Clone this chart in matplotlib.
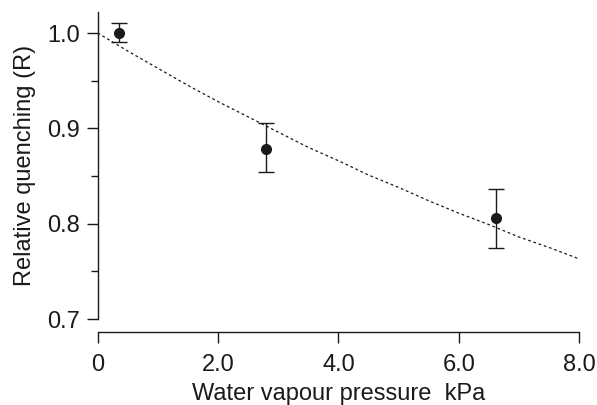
import matplotlib.pyplot as plt
import numpy as np

plt.rcParams['font.family'] = ['Liberation Sans Narrow', 'Liberation Sans', 'DejaVu Sans']

# measured points
pressure = [0.36, 2.80, 6.61]
quench = [1.000, 0.8785, 0.806]
err_lo = [0.009, 0.0245, 0.031]
err_hi = [0.011, 0.0275, 0.030]

# fitted curve
fit_x = [0, 0.5, 1, 1.5, 2, 2.5, 3, 3.5, 4, 4.5, 5, 5.5, 6, 6.5, 7, 7.5, 8]
fit_y = [1.000, 0.981, 0.963, 0.945, 0.928, 0.912, 0.896, 0.880, 0.866,
         0.851, 0.838, 0.824, 0.811, 0.799, 0.786, 0.775, 0.763]

xticks = [0, 2, 4, 6, 8]
xticklabels = ['0', '2.0', '4.0', '6.0', '8.0']
yticks = [0.7, 0.8, 0.9, 1.0]
yticklabels = ['0.7', '0.8', '0.9', '1.0']

ink = '#1a1a1a'

fig = plt.figure(figsize=(5.97, 4.05), dpi=100)
ax = fig.add_axes([0.1637, 0.2123, 0.8066, 0.7580])

ax.plot(fit_x, fit_y, color=ink, lw=0.9, linestyle=(0, (2.2, 2.2)))
ax.errorbar(pressure, quench, yerr=[err_lo, err_hi], fmt='o', color=ink,
            ms=7, elinewidth=1.0, capsize=6, capthick=1.0)

ax.set_xlim(0, 8)
ax.set_ylim(0.7, 1.022)

for s in ['top', 'right']:
    ax.spines[s].set_visible(False)
ax.spines['bottom'].set_position(('outward', 9))
ax.spines['left'].set_bounds(0.7, 1.022)
for s in ['left', 'bottom']:
    ax.spines[s].set_linewidth(1.0)
    ax.spines[s].set_color(ink)

ax.set_xticks(xticks)
ax.set_xticklabels(xticklabels)
ax.set_yticks(yticks)
ax.set_yticklabels(yticklabels)
ax.set_yticks([0.75, 0.85, 0.95], minor=True)
ax.tick_params(axis='both', which='major', length=8, width=1.0, color=ink,
               labelsize=17, labelcolor=ink, pad=5)
ax.tick_params(axis='x', which='major', pad=8)
ax.tick_params(axis='y', which='minor', length=5, width=1.0, color=ink)

ax.set_xlabel('Water vapour pressure  kPa', fontsize=17, color=ink, labelpad=5)
ax.set_ylabel('Relative quenching (R)', fontsize=17, color=ink, labelpad=8)

fig.savefig('out.png', dpi=100)
